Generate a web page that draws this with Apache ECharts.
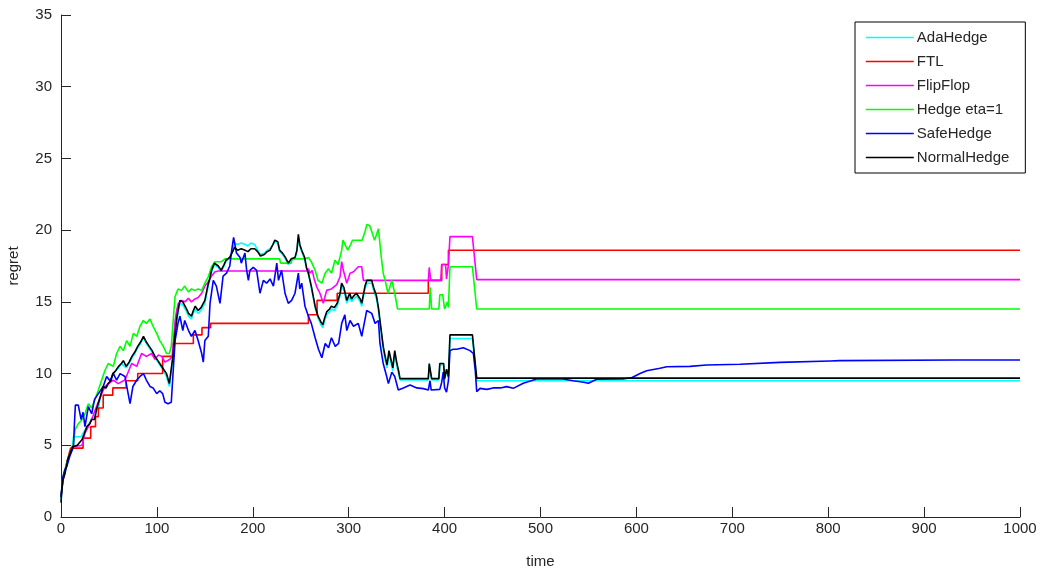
<!DOCTYPE html>
<html>
<head>
<meta charset="utf-8">
<title>regret over time</title>
<script src="https://cdn.jsdelivr.net/npm/echarts@6/dist/echarts.min.js"></script>
<style>
  html, body { margin: 0; padding: 0; background: #fff; }
  #chart { width: 1042px; height: 571px; }
</style>
</head>
<body>
<div id="chart"></div>
<script>
// Cumulative regret of each expert-tracking algorithm, as [time, regret] pairs.
const seriesNames = ['AdaHedge', 'FTL', 'FlipFlop', 'Hedge eta=1', 'SafeHedge', 'NormalHedge'];
const xTicks = [0, 100, 200, 300, 400, 500, 600, 700, 800, 900, 1000];
const yTicks = [0, 5, 10, 15, 20, 25, 30, 35];

const adaHedge = [[0,1.2],[1,2.0],[2,2.6],[4,3.0],[7,4.0],[12,5.0],[13,5.6],[21,5.6],[23,5.5],[27,6.3],[30,6.6],[32,6.9],[35,6.9],[37,7.4],[39,7.6],[41,8.3],[44,9.0],[47,9.0],[49,9.2],[52,9.5],[54,9.9],[57,10.2],[60,10.4],[63,10.7],[65,10.8],[68,10.4],[71,10.7],[74,11.1],[77,11.4],[80,11.8],[83,12.1],[86,12.5],[89,12.1],[92,11.8],[95,11.5],[98,11.1],[101,10.8],[104,10.5],[106,10.3],[110,9.8],[113,9.1],[115,9.2],[117,11.2],[119,12.6],[121,13.8],[124,14.9],[127,14.8],[129,14.7],[131,14.3],[133,14.0],[136,13.8],[138,14.2],[140,14.5],[143,14.2],[146,14.4],[148,14.5],[150,14.9],[153,15.9],[155,16.5],[157,17.1],[160,17.6],[164,17.4],[167,17.1],[170,17.5],[172,17.8],[176,18.1],[179,18.6],[181,19.1],[184,19.0],[188,19.1],[192,19.0],[195,18.9],[198,19.1],[202,19.0],[205,18.6],[208,18.3],[212,18.4],[215,18.6],[218,18.7],[221,19.0],[223,19.2],[226,19.1],[228,18.5],[231,18.3],[234,18.0],[237,17.6],[240,17.9],[244,18.0],[246,18.5],[247.5,19.5],[249,18.9],[251,18.5],[254,18.0],[256,17.3],[258,16.9],[261,16.0],[263,15.3],[265,14.6],[268,13.9],[271,13.4],[273,13.2],[275,13.7],[277,14.1],[280,14.3],[282,14.5],[285,14.4],[288,14.7],[291,15.4],[292.6,16.1],[295,15.8],[298,14.9],[301,15.4],[303,15.0],[305,15.2],[308,15.4],[310,15.4],[312,15.0],[313.6,14.7],[315,15.2],[317,15.9],[319,16.3],[324,16.3],[326,15.8],[329,15.2],[331,14.4],[333,13.3],[336,11.7],[338,11.0],[340,10.4],[342,11.4],[344,10.8],[346,10.2],[348,11.4],[350,10.6],[352,10.0],[353.5,9.55],[383,9.55],[384,10.6],[385.5,10.6],[386.5,9.55],[394,9.55],[395,10.6],[399,10.6],[400,9.55],[401,9.55],[402,10.2],[404,9.7],[405.6,12.45],[429,12.45],[433.5,9.5],[1000,9.5]];

const ftl = [[0,1.4],[2,2.5],[5,3.5],[8,4.3],[10,4.8],[23,4.8],[23,5.5],[31,5.5],[31,6.3],[36,6.3],[36,7.0],[39,7.0],[39,7.6],[44,7.6],[44,8.5],[54,8.5],[54,9.0],[68,9.0],[68,9.5],[80,9.5],[80,10.0],[106,10.0],[106,11.2],[117,11.2],[117,12.1],[138,12.1],[138,12.7],[147,12.7],[147,13.2],[156,13.2],[156,13.5],[258,13.5],[258,14.1],[267,14.1],[267,15.1],[288,15.1],[288,15.6],[383,15.6],[383,16.5],[397,16.5],[397,17.6],[404,17.6],[404,18.6],[1000,18.6]];

const flipFlop = [[0,1.4],[2,2.6],[7,4.0],[13,4.9],[22,5.0],[25,5.85],[28.5,6.3],[32,6.8],[37,7.7],[42.4,8.6],[46,9.1],[54.5,9.55],[59.6,9.3],[66.7,9.55],[73.7,10.7],[79,10.5],[84,11.4],[89,11.2],[94.5,11.4],[98,11.0],[101.6,11.3],[105,11.2],[108.4,10.8],[113.6,11.0],[116,11.2],[119,13.7],[120.6,14.4],[122.4,14.9],[126,15.1],[129.4,15.0],[132.8,15.25],[136,15.0],[139.7,15.2],[143,15.3],[146.7,15.6],[150,16.1],[153.6,16.4],[157,16.8],[160.6,17.1],[164,17.15],[256,17.15],[258,17.3],[259.6,17.0],[262,17.2],[264,16.6],[266.6,16.05],[270,15.6],[273.5,14.9],[277,15.8],[282,15.9],[287.5,16.2],[291,16.75],[292.7,17.8],[294.4,17.2],[298,16.3],[301.4,17.0],[305,17.1],[310,17.45],[313.6,17.45],[315.3,16.5],[383,16.5],[384,17.4],[385.5,16.5],[396,16.5],[397,17.6],[401,17.6],[402,16.6],[404,17.6],[405.6,19.55],[429,19.55],[433.5,16.55],[1000,16.55]];

const hedgeEta1 = [[0,1.4],[2,2.8],[7,4.0],[13,5.1],[14.6,6.07],[18,6.5],[21.5,6.75],[25,7.2],[28.5,7.9],[32,7.6],[35.4,8.2],[39,8.85],[42.4,9.55],[46,10.25],[49.3,10.7],[54.5,10.5],[58,11.4],[61.6,11.9],[65,11.6],[68.5,12.3],[72,11.9],[75.4,12.8],[79,12.6],[82.4,13.3],[85.8,13.7],[89,13.5],[92.8,13.8],[96,13.3],[99.8,12.8],[103,12.3],[106.7,11.9],[110,11.4],[113,11.4],[115,11.9],[117,13.7],[118.9,15.35],[122,15.9],[125.6,15.8],[129,16.1],[132.8,15.7],[136,15.9],[139.7,15.8],[143,15.9],[146.7,15.8],[150,16.3],[153.6,16.75],[157,17.45],[160.6,17.8],[167.5,17.8],[171,18.0],[228,18.0],[229,17.7],[240,17.7],[241,18.0],[254.4,18.0],[258,18.1],[261,17.8],[265,17.2],[268,16.5],[272,16.3],[275.4,17.0],[279,17.3],[282,17.0],[285.7,17.9],[289,17.6],[292.7,18.6],[294,19.3],[296,19.3],[299,18.6],[302,19.0],[304,19.3],[314,19.3],[317,19.9],[319,20.4],[322,20.3],[324,20.3],[327,19.3],[331,20.1],[334,18.1],[336,17.0],[338,16.5],[341,15.6],[345,16.5],[348,15.6],[351,14.5],[384,14.5],[385,16.0],[386.5,14.5],[394,14.5],[395,15.5],[398,15.5],[400,14.5],[402,14.5],[403,15.0],[404,14.6],[405.6,17.45],[429,17.45],[433.5,14.5],[1000,14.5]];

const safeHedge = [[0,1.4],[2,2.8],[4,3.3],[6,3.5],[9,4.2],[13,4.9],[14,6.5],[15,7.8],[18,7.8],[21,6.8],[23,7.3],[25,6.3],[28.5,7.7],[32,7.2],[35,8.2],[39,8.6],[44,9.1],[47.6,9.8],[51,9.5],[54.6,10.0],[58,9.55],[61.6,10.0],[66.7,9.8],[70,8.6],[72,7.9],[75,9.1],[79,9.55],[82.4,9.8],[86,10.0],[89,9.55],[92.8,9.1],[96,9.0],[99.8,8.6],[103,8.8],[106,8.6],[108.4,8.0],[111.6,7.9],[115,8.0],[117,10.2],[119,12.3],[122,13.5],[124,14.0],[127,13.0],[129,13.7],[133,13.0],[136,12.6],[139.7,13.0],[143,12.3],[146.7,11.4],[148.4,10.8],[150,12.3],[153.6,12.6],[155.4,14.9],[158.8,16.5],[162,16.1],[165.8,14.9],[169,16.8],[172.6,17.0],[176,17.5],[178,18.6],[180,19.5],[183,18.4],[186.7,18.1],[188,17.7],[191.8,18.4],[193.6,17.2],[195.4,16.5],[197,17.2],[200.5,17.4],[204,17.2],[207.5,15.6],[211,16.5],[214.4,16.3],[218,16.6],[221.5,16.1],[225,17.7],[226.8,16.5],[230,17.2],[233.6,15.6],[237,14.9],[240.5,15.1],[244,15.6],[247.5,17.0],[249,15.9],[251,16.3],[254.4,14.7],[258,14.0],[261,13.5],[265,12.5],[268.5,11.7],[272,11.1],[275.5,12.1],[279,11.8],[282,12.5],[286,11.9],[289.5,12.1],[292.7,13.5],[296,14.1],[298,13.0],[301.4,13.7],[305,13.3],[310,13.5],[313.6,12.6],[318.8,14.4],[324,14.2],[327.5,13.5],[331,13.7],[332.6,12.1],[336,10.7],[339.6,9.8],[341.4,9.3],[345,10.1],[348,9.8],[351.7,8.85],[357,9.0],[364,9.2],[371,9.0],[377.8,8.95],[383,8.85],[384.8,9.5],[386,8.85],[395,8.9],[397,9.4],[398.6,10.1],[400,9.0],[402,8.7],[404,9.5],[405.6,11.6],[409,11.7],[412.5,11.7],[419.5,11.8],[426.5,11.6],[430,11.4],[432,10.2],[433.5,8.74],[437,8.97],[444,8.9],[450.6,9.0],[458,9.0],[464.8,9.09],[471.6,8.97],[482,9.32],[496,9.62],[510,9.62],[523.6,9.62],[534,9.5],[545,9.4],[550,9.32],[558.5,9.6],[586,9.62],[595,9.71],[603.8,10.0],[610.7,10.2],[624.6,10.37],[631.6,10.48],[656,10.5],[673.3,10.6],[708,10.65],[749.7,10.78],[801.9,10.88],[812,10.9],[932,10.95],[1000,10.95]];

const normalHedge = [[0,1.0],[1,2.0],[2,2.6],[4,3.0],[7,4.0],[12,4.9],[17,5.0],[22,5.4],[24,5.4],[27,6.3],[30,6.5],[32,6.8],[35,6.8],[37,7.5],[39,7.6],[41,8.4],[44,9.1],[47,9.0],[49,9.3],[52,9.5],[54,10.0],[57,10.2],[60,10.5],[63,10.7],[65,10.9],[68,10.5],[71,10.8],[74,11.2],[77,11.5],[80,11.9],[83,12.2],[86,12.6],[89,12.2],[92,11.9],[95,11.6],[98,11.2],[101,10.9],[104,10.6],[106,10.5],[110,10.0],[113,9.3],[115,9.4],[117,11.4],[119,12.8],[121,14.0],[124,15.1],[127,15.0],[129,14.9],[131,14.5],[133,14.2],[136,14.0],[138,14.4],[140,14.7],[143,14.4],[146,14.6],[148,14.7],[150,15.1],[153,16.1],[155,16.6],[157,17.2],[160,17.7],[164,17.5],[167,17.2],[170,17.6],[172,17.9],[176,18.1],[179,18.5],[181,18.8],[184,18.6],[188,18.7],[192,18.6],[195,18.5],[198,18.7],[202,18.7],[205,18.5],[208,18.2],[212,18.3],[215,18.5],[218,18.6],[221,19.0],[223,19.3],[226,19.2],[228,18.6],[231,18.4],[234,18.1],[237,17.7],[240,18.0],[244,18.1],[246,18.6],[247.5,19.7],[249,19.0],[251,18.6],[254,18.1],[256,17.4],[258,17.0],[261,16.1],[263,15.4],[265,14.7],[268,14.0],[271,13.6],[273,13.4],[275,13.9],[277,14.3],[280,14.5],[282,14.7],[285,14.6],[288,14.9],[291,15.6],[292.6,16.3],[295,16.0],[298,15.1],[301,15.6],[303,15.2],[305,15.4],[308,15.6],[310,15.6],[312,15.2],[313.6,14.9],[315,15.4],[317,16.1],[319,16.5],[324,16.5],[326,16.0],[329,15.4],[331,14.6],[333,13.5],[336,11.9],[338,11.2],[340,10.6],[342,11.6],[344,11.0],[346,10.4],[348,11.6],[350,10.8],[352,10.2],[353.5,9.65],[383,9.65],[384,10.7],[385.5,10.7],[386.5,9.65],[394,9.65],[395,10.7],[399,10.7],[400,9.65],[401,9.65],[402,10.3],[404,9.8],[405.6,12.7],[429,12.7],[433.5,9.68],[1000,9.68]];

const seriesData = [adaHedge, ftl, flipFlop, hedgeEta1, safeHedge, normalHedge];
const seriesColors = ['#00ffff', '#ff0000', '#ff00ff', '#00ff00', '#0000ff', '#000000'];

const textColor = '#262626';
const fontFamily = 'Liberation Sans, Arial, sans-serif';

const chart = echarts.init(document.getElementById('chart'), null, { renderer: 'canvas' });

chart.setOption({
  animation: false,
  backgroundColor: '#ffffff',
  grid: { left: 61, right: 22, top: 15, bottom: 54, containLabel: false, outerBoundsMode: 'none' },
  xAxis: {
    type: 'value',
    min: xTicks[0],
    max: xTicks[xTicks.length - 1],
    interval: 100,
    name: 'time',
    nameLocation: 'middle',
    nameGap: 37,
    nameTextStyle: { color: textColor, fontSize: 15, fontFamily },
    axisLine: { lineStyle: { color: textColor, width: 1 } },
    axisTick: { inside: true, length: 10, lineStyle: { color: textColor } },
    axisLabel: { color: textColor, fontSize: 15, fontFamily, margin: 4, formatter: v => String(v) },
    splitLine: { show: false }
  },
  yAxis: {
    type: 'value',
    min: yTicks[0],
    max: yTicks[yTicks.length - 1],
    interval: 5,
    name: 'regret',
    nameLocation: 'middle',
    nameGap: 40,
    nameTextStyle: { color: textColor, fontSize: 15, fontFamily },
    axisLine: { show: true, lineStyle: { color: textColor, width: 1 } },
    axisTick: { show: true, inside: true, length: 10, lineStyle: { color: textColor } },
    axisLabel: { color: textColor, fontSize: 15, fontFamily, margin: 9, formatter: v => String(v) },
    splitLine: { show: false }
  },
  legend: {
    data: seriesNames,
    orient: 'vertical',
    left: 855,
    top: 22,
    padding: [8, 16, 8, 10],
    itemWidth: 48,
    itemHeight: 14,
    itemGap: 9,
    backgroundColor: '#ffffff',
    borderColor: '#000000',
    borderWidth: 1,
    borderRadius: 0,
    // keys are plain strokes: the marker drawn over the stroke is made transparent
    itemStyle: { opacity: 0 },
    lineStyle: { width: 1.6 },
    textStyle: { color: textColor, fontSize: 15, fontFamily, padding: [0, 0, 0, -2] }
  },
  series: seriesNames.map((name, i) => ({
    name,
    type: 'line',
    data: seriesData[i],
    symbol: 'none',
    showSymbol: false,
    z: 2 + i,
    lineStyle: { color: seriesColors[i], width: 1.6 },
    itemStyle: { color: seriesColors[i] },
    emphasis: { disabled: true }
  }))
});
</script>
</body>
</html>
